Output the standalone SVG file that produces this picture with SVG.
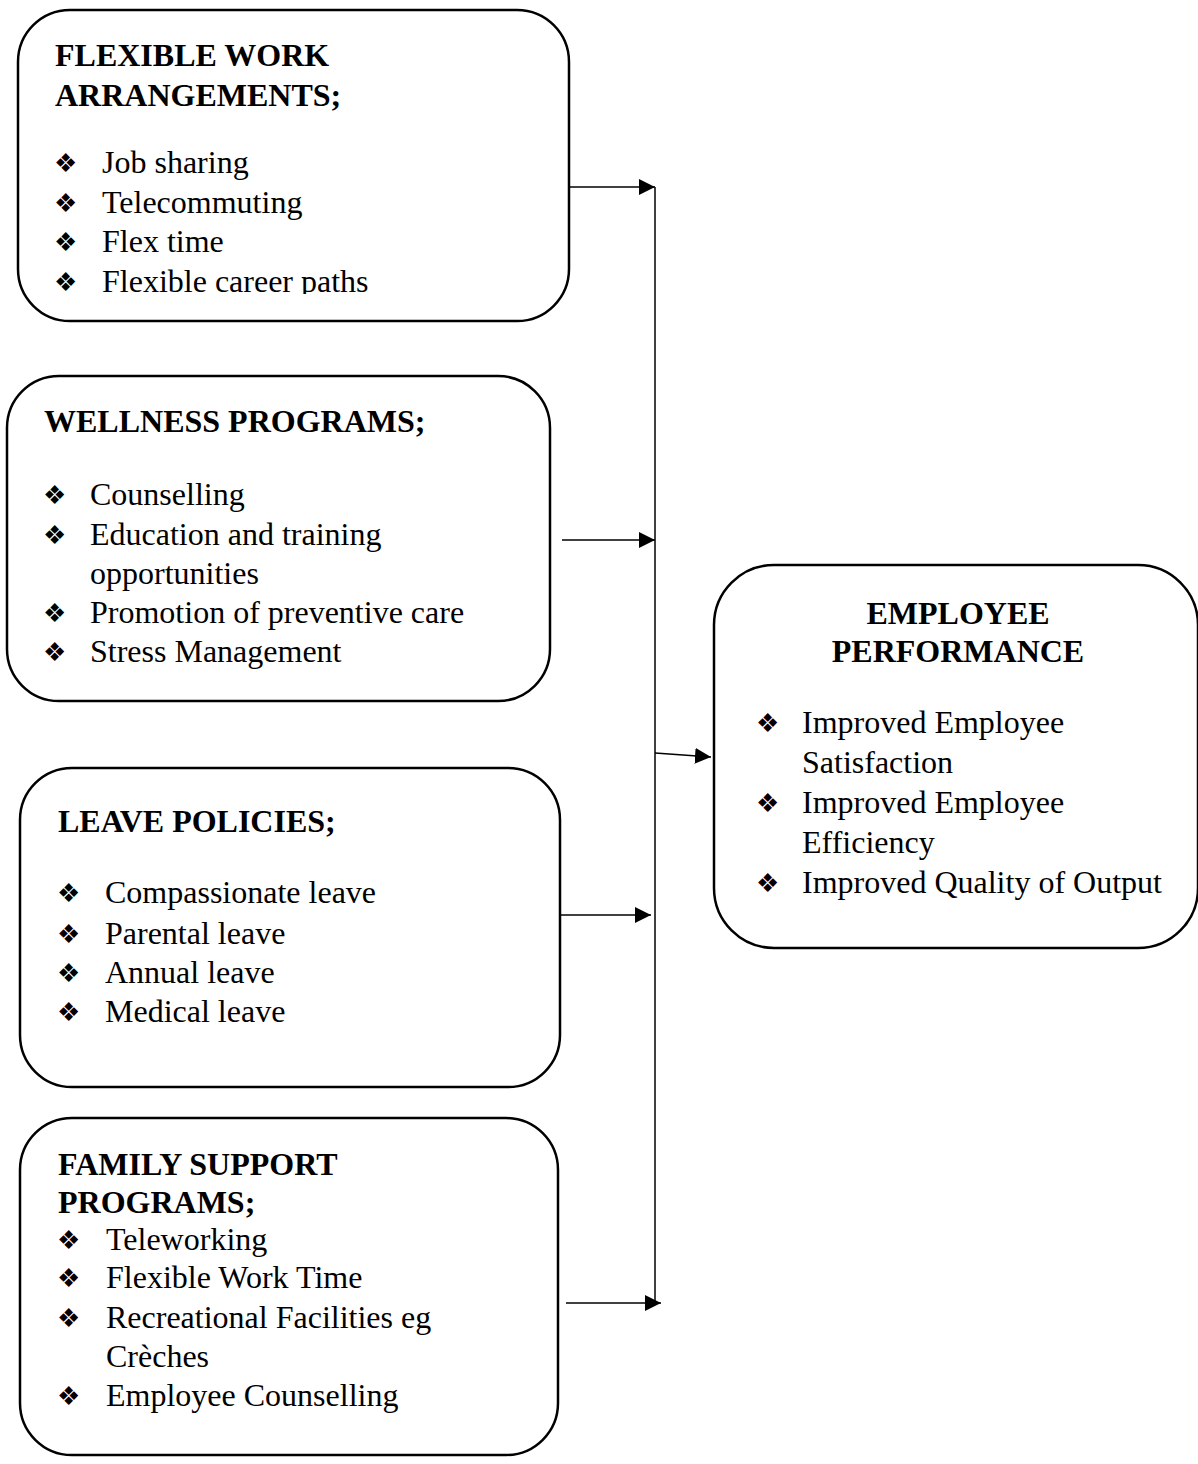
<svg xmlns="http://www.w3.org/2000/svg" width="1198" height="1464" viewBox="0 0 1198 1464">
<style>
.box{fill:#fff;stroke:#000;stroke-width:2.5}
.t{font-family:"Liberation Serif","Times New Roman",serif;font-size:32px;fill:#000}
.h{font-family:"Liberation Serif","Times New Roman",serif;font-size:32px;font-weight:bold;fill:#000}
.b{font-family:"DejaVu Sans",sans-serif;font-size:26px;fill:#000}
.c{stroke:#000;stroke-width:1.5;fill:none}
</style>
<defs>
<marker id="arr" markerUnits="userSpaceOnUse" markerWidth="18" markerHeight="16" refX="16" refY="8" orient="auto">
<path d="M0,0 L16,8 L0,16 z" fill="#000"/>
</marker>
<clipPath id="clip1"><rect x="0" y="0" width="600" height="294"/></clipPath>
</defs>
<rect width="1198" height="1464" fill="#fff"/>
<g id="connectors">
<line class="c" x1="655" y1="187" x2="655" y2="1303"/>
<line class="c" x1="569" y1="187" x2="655" y2="187" marker-end="url(#arr)"/>
<line class="c" x1="562" y1="540" x2="655" y2="540" marker-end="url(#arr)"/>
<line class="c" x1="655" y1="753" x2="711" y2="757" marker-end="url(#arr)"/>
<line class="c" x1="556" y1="915" x2="651" y2="915" marker-end="url(#arr)"/>
<line class="c" x1="566" y1="1303" x2="661" y2="1303" marker-end="url(#arr)"/>
</g>
<g id="flexible-work">
<rect class="box" x="18" y="10" width="551" height="311" rx="52" ry="52"/>
<text class="h" x="55" y="66">FLEXIBLE WORK</text>
<text class="h" x="55" y="106">ARRANGEMENTS;</text>
<text class="b" x="54" y="172">❖</text><text class="t" x="102" y="173">Job sharing</text>
<text class="b" x="54" y="212">❖</text><text class="t" x="102" y="213">Telecommuting</text>
<text class="b" x="54" y="251">❖</text><text class="t" x="102" y="252">Flex time</text>
<g clip-path="url(#clip1)"><text class="b" x="54" y="291">❖</text><text class="t" x="102" y="292">Flexible career paths</text></g>
</g>
<g id="wellness">
<rect class="box" x="7" y="376" width="543" height="325" rx="52" ry="52"/>
<text class="h" x="44" y="432">WELLNESS PROGRAMS;</text>
<text class="b" x="43" y="504">❖</text><text class="t" x="90" y="505">Counselling</text>
<text class="b" x="43" y="544">❖</text><text class="t" x="90" y="545">Education and training</text>
<text class="t" x="90" y="584">opportunities</text>
<text class="b" x="43" y="622">❖</text><text class="t" x="90" y="623">Promotion of preventive care</text>
<text class="b" x="43" y="661">❖</text><text class="t" x="90" y="662">Stress Management</text>
</g>
<g id="leave">
<rect class="box" x="20" y="768" width="540" height="319" rx="52" ry="52"/>
<text class="h" x="58" y="832">LEAVE POLICIES;</text>
<text class="b" x="57" y="902">❖</text><text class="t" x="105" y="903">Compassionate leave</text>
<text class="b" x="57" y="943">❖</text><text class="t" x="105" y="944">Parental leave</text>
<text class="b" x="57" y="982">❖</text><text class="t" x="105" y="983">Annual leave</text>
<text class="b" x="57" y="1021">❖</text><text class="t" x="105" y="1022">Medical leave</text>
</g>
<g id="family-support">
<rect class="box" x="20" y="1118" width="538" height="337" rx="52" ry="52"/>
<text class="h" x="58" y="1175">FAMILY SUPPORT</text>
<text class="h" x="58" y="1213">PROGRAMS;</text>
<text class="b" x="57" y="1249">❖</text><text class="t" x="106" y="1250">Teleworking</text>
<text class="b" x="57" y="1287">❖</text><text class="t" x="106" y="1288">Flexible Work Time</text>
<text class="b" x="57" y="1327">❖</text><text class="t" x="106" y="1328">Recreational Facilities eg</text>
<text class="t" x="106" y="1367">Crèches</text>
<text class="b" x="57" y="1405">❖</text><text class="t" x="106" y="1406">Employee Counselling</text>
</g>
<g id="employee-performance">
<rect class="box" x="714" y="565" width="484" height="383" rx="60" ry="60"/>
<text class="h" x="958" y="624" text-anchor="middle">EMPLOYEE</text>
<text class="h" x="958" y="662" text-anchor="middle">PERFORMANCE</text>
<text class="b" x="756" y="732">❖</text><text class="t" x="802" y="733">Improved Employee</text>
<text class="t" x="802" y="773">Satisfaction</text>
<text class="b" x="756" y="812">❖</text><text class="t" x="802" y="813">Improved Employee</text>
<text class="t" x="802" y="853">Efficiency</text>
<text class="b" x="756" y="892">❖</text><text class="t" x="802" y="893">Improved Quality of Output</text>
</g>
</svg>
